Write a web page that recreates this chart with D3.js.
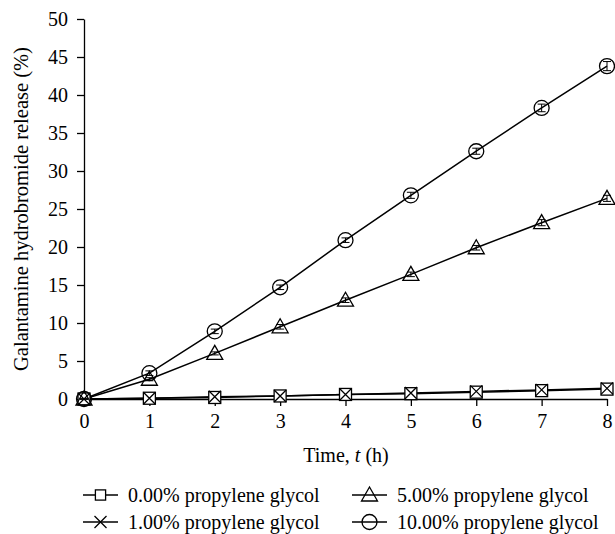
<!DOCTYPE html>
<html>
<head>
<meta charset="utf-8">
<script src="https://cdn.jsdelivr.net/npm/d3@7"></script>
<style>
  body { margin: 0; background: #fff; }
  text { font-family: "Liberation Serif", "DejaVu Serif", serif; fill: #000; }
</style>
</head>
<body>
<script>
// data
var hours = [0, 1, 2, 3, 4, 5, 6, 7, 8];
var pg0 = [0, 0.1, 0.2, 0.4, 0.6, 0.7, 0.9, 1.1, 1.3];
var pg1 = [0, 0.1, 0.3, 0.4, 0.6, 0.8, 1.0, 1.2, 1.4];
var pg5 = [0, 2.6, 6.0, 9.5, 13.0, 16.4, 19.9, 23.2, 26.4];
var pg10 = [0, 3.4, 8.9, 14.7, 20.9, 26.8, 32.6, 38.3, 43.8];
var err10 = [0, 0.3, 0.3, 0.3, 0.3, 0.4, 0.4, 0.5, 0.6];
var err5 = [0, 0.2, 0.2, 0.3, 0.3, 0.3, 0.3, 0.4, 0.4];
var yTicks = [0, 5, 10, 15, 20, 25, 30, 35, 40, 45, 50];

var series = [
  { name: "0.00% propylene glycol", values: pg0, err: null, shape: "square" },
  { name: "1.00% propylene glycol", values: pg1, err: null, shape: "cross" },
  { name: "5.00% propylene glycol", values: pg5, err: err5, shape: "triangle" },
  { name: "10.00% propylene glycol", values: pg10, err: err10, shape: "circle" }
];

var margin = { top: 19, right: 8, bottom: 135, left: 84 };
var width = 615, height = 534;
var w = width - margin.left - margin.right;
var h = height - margin.top - margin.bottom;
var fontSize = "20px";

var svg = d3.select("body").append("svg")
  .attr("width", width)
  .attr("height", height);

var g = svg.append("g")
  .attr("transform", "translate(" + margin.left + "," + margin.top + ")");

var x = d3.scaleLinear().domain([0, 8]).range([0, w]);
var y = d3.scaleLinear().domain([0, 50]).range([h, 0]);

// axes
var xAxis = g.append("g")
  .attr("transform", "translate(0," + h + ")")
  .call(d3.axisBottom(x).tickValues(hours).tickSize(7).tickSizeOuter(0).tickPadding(8));
var yAxis = g.append("g")
  .call(d3.axisLeft(y).tickValues(yTicks).tickSize(7).tickSizeOuter(0).tickPadding(9));

[xAxis, yAxis].forEach(function(a) {
  a.selectAll("path, line").attr("stroke", "#000").attr("stroke-width", 1.3);
  a.selectAll("text").style("font-size", fontSize).style("font-family", "'Liberation Serif', serif");
});

// x axis title
var xt = svg.append("text")
  .attr("x", 346)
  .attr("y", 462)
  .attr("text-anchor", "middle")
  .style("font-size", fontSize);
xt.append("tspan").text("Time, ");
xt.append("tspan").style("font-style", "italic").text("t");
xt.append("tspan").text(" (h)");

// y axis title
svg.append("text")
  .attr("transform", "translate(28,209) rotate(-90)")
  .attr("text-anchor", "middle")
  .style("font-size", "20.5px")
  .text("Galantamine hydrobromide release (%)");

function drawMarker(sel, shape, k) {
  var c = "#000";
  k = k || 1;
  if (shape === "square") {
    sel.append("rect").attr("x", -6 * k).attr("y", -6 * k).attr("width", 12 * k).attr("height", 12 * k)
      .attr("fill", "#fff").attr("stroke", c).attr("stroke-width", 1.3);
  } else if (shape === "cross") {
    sel.append("path").attr("d", "M-6,-6L6,6M-6,6L6,-6")
      .attr("fill", "none").attr("stroke", c).attr("stroke-width", 1.3);
  } else if (shape === "triangle") {
    sel.append("path").attr("d", "M0,-8L8,6L-8,6Z")
      .attr("fill", "none").attr("stroke", c).attr("stroke-width", 1.3);
  } else if (shape === "circle") {
    sel.append("circle").attr("r", 7.5)
      .attr("fill", "none").attr("stroke", c).attr("stroke-width", 1.3);
  }
}

var line = d3.line()
  .x(function(d, i) { return x(hours[i]); })
  .y(function(d) { return y(d); });

series.forEach(function(s) {
  g.append("path")
    .datum(s.values)
    .attr("d", line)
    .attr("fill", "none")
    .attr("stroke", "#000")
    .attr("stroke-width", 1.5);
});

series.forEach(function(s) {
  var pts = g.selectAll(null)
    .data(s.values)
    .enter()
    .append("g")
      .attr("transform", function(d, i) {
        return "translate(" + x(hours[i]) + "," + y(d) + ")";
      });
  pts.each(function() { drawMarker(d3.select(this), s.shape); });

  if (s.err) {
    // small error bars
    var eb = g.selectAll(null)
      .data(s.values)
      .enter()
      .append("g")
        .attr("stroke", "#000")
        .attr("stroke-width", 1);
    eb.append("line")
      .attr("x1", function(d, i) { return x(hours[i]); })
      .attr("x2", function(d, i) { return x(hours[i]); })
      .attr("y1", function(d, i) { return y(d - s.err[i]); })
      .attr("y2", function(d, i) { return y(d + s.err[i]); });
    eb.append("line")
      .attr("x1", function(d, i) { return x(hours[i]) - 4; })
      .attr("x2", function(d, i) { return x(hours[i]) + 4; })
      .attr("y1", function(d, i) { return y(d + s.err[i]); })
      .attr("y2", function(d, i) { return y(d + s.err[i]); });
    eb.append("line")
      .attr("x1", function(d, i) { return x(hours[i]) - 4; })
      .attr("x2", function(d, i) { return x(hours[i]) + 4; })
      .attr("y1", function(d, i) { return y(d - s.err[i]); })
      .attr("y2", function(d, i) { return y(d - s.err[i]); });
  }
});

// legend
var legendPos = [
  { x: 83, y: 495 },
  { x: 83, y: 522 },
  { x: 352, y: 495 },
  { x: 352, y: 522 }
];

series.forEach(function(s, i) {
  var p = legendPos[i];
  var lg = svg.append("g").attr("transform", "translate(" + p.x + "," + p.y + ")");
  lg.append("line")
    .attr("x1", 0).attr("x2", 35)
    .attr("stroke", "#000").attr("stroke-width", 1.3);
  var m = lg.append("g").attr("transform", "translate(17.5,0)");
  drawMarker(m, s.shape, 0.85);
  lg.append("text")
    .attr("x", 45)
    .attr("y", 0)
    .attr("dy", "0.33em")
    .style("font-size", fontSize)
    .text(s.name);
});
</script>
</body>
</html>
